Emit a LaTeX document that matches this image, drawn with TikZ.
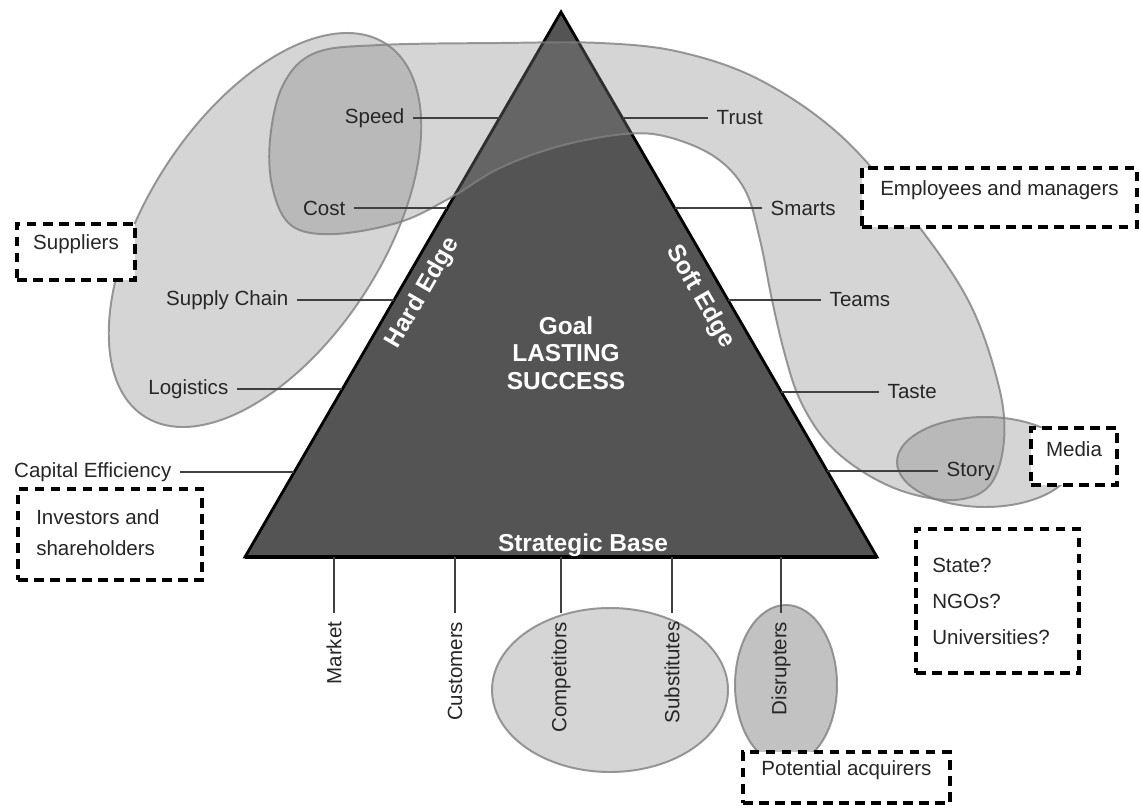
\documentclass[tikz,border=0pt]{standalone}
\usepackage{fontspec}
\setmainfont{Liberation Sans}
\usetikzlibrary{positioning,fit}

\begin{document}
\begin{tikzpicture}[x=0.025cm, y=-0.025cm,
    font=\fontsize{14.6}{17.5}\selectfont,
    lbl/.style = {inner sep=6pt, text=black!85},
    conn/.style = {draw=black!75, line width=1pt},
    grp/.style = {fill=black!47, fill opacity=0.35, draw=black!50, draw opacity=0.8, line width=1.4pt},
    dbox/.style = {draw, line width=2.4pt, dash pattern=on 6.8pt off 4.6pt, fill=white, inner sep=0pt, text=black!85},
    inlbl/.style = {text=white, font=\fontsize{17.4}{19.6}\selectfont\bfseries, align=center}]
            \fill[white] (0,0) rectangle (1141,807);
            % Pyramid
            \coordinate (top) at (561,12);
            \coordinate (bl) at (245,557);
            \coordinate (br) at (877,557);
            \draw[fill=black!67, line width=2pt] (top) -- (br) -- (bl) -- cycle;
            \draw[line width=3pt] (bl) -- (br);
            % Groups
            \draw[grp, shift={(265,230)}, rotate=57] (0,0) ellipse [x radius=222, y radius=118];
            \draw[grp] plot[smooth cycle, tension=0.6] coordinates {
                (283,85) (315,53) (380,45) (500,43) (600,43) (680,52) (760,80)
                (840,135) (910,215) (968,300) (998,383) (1004,440) (990,485)
                (955,500) (905,492) (860,470) (825,440) (800,400) (785,355)
                (772,300) (760,240) (745,190) (715,157) (668,137) (625,134)
                (560,146) (500,168) (450,198) (400,222) (335,234) (292,226)
                (273,190) (270,140)};
            \draw[grp] (985,462) ellipse [x radius=88, y radius=45];
            \draw[grp] (610,690) ellipse [x radius=118, y radius=82];
            \draw[grp, fill opacity=0.5] (786,685) ellipse [x radius=51, y radius=80];
            % Nodes
            \node[lbl, anchor=east] (speed) at (413,118) {Speed};
            \node[lbl, anchor=east] (cost) at (354,208) {Cost};
            \node[lbl, anchor=east] (chain) at (297,300) {Supply Chain};
            \node[lbl, anchor=east] (logi) at (237,389) {Logistics};
            \node[lbl, anchor=east] (capeff) at (180,472) {Capital Efficiency};
            \node[lbl, anchor=west] (trust) at (708,118) {Trust};
            \node[lbl, anchor=west] (smarts) at (762,208) {Smarts};
            \node[lbl, anchor=west] (teams) at (821,300) {Teams};
            \node[lbl, anchor=west] (taste) at (879,392) {Taste};
            \node[lbl, anchor=west] (story) at (938,471) {Story};
            \node[lbl, rotate=90, anchor=east] (market) at (334,613) {Market};
            \node[lbl, rotate=90, anchor=east] (cust) at (455,613) {Customers};
            \node[lbl, rotate=90, anchor=east] (comp) at (561,613) {Competitors};
            \node[lbl, rotate=90, anchor=east] (subst) at (672,613) {Substitutes};
            \node[lbl, rotate=90, anchor=east] (disr) at (781,613) {Disrupters};
            \node[inlbl] (goal) at (566,353) {Goal\\LASTING\\SUCCESS};
            \node[inlbl] (base) at (583,545) {Strategic Base};
            \node[inlbl, rotate=60] (hard) at (423,293) {Hard Edge};
            \node[inlbl, rotate=-60] (soft) at (700,297) {Soft Edge};
            % Stakeholders
            \node[dbox, fit={(17,224) (135,280)}] (sup) {Suppliers};
            \node[dbox, fit={(862,168) (1137,227)}] (emp) {Employees and managers};
            \node[dbox, fit={(1031,428) (1117,485)}] (media) {Media};
            \node[dbox, fit={(743,752) (950,803)}] (acq) {Potential acquirers};
            \node[dbox, fit={(18,489) (202,580)}] (inv) {};
            \node[lbl, anchor=west, inner sep=0pt, align=left, font=\fontsize{14.6}{22}\selectfont] (invtxt) at (36,533) {Investors and\\shareholders};
            \node[dbox, fit={(916,529) (1079,673)}] (other) {};
            \node[lbl, anchor=west, inner sep=0pt, align=left, font=\fontsize{14.6}{25.6}\selectfont] (othertxt) at (932,601) {State?\\NGOs?\\Universities?};
            % Edges
            \coordinate (speedE) at (499.5,118);
            \coordinate (costE) at (447.4,208);
            \coordinate (chainE) at (394,300);
            \coordinate (logiE) at (342.4,389);
            \coordinate (capeffE) at (294.3,472);
            \coordinate (trustE) at (622.5,118);
            \coordinate (smartsE) at (674.6,208);
            \coordinate (teamsE) at (728,300);
            \coordinate (tasteE) at (781.3,392);
            \coordinate (storyE) at (827.1,471);
            \coordinate (marketE) at (334,557);
            \coordinate (custE) at (455,557);
            \coordinate (compE) at (561,557);
            \coordinate (substE) at (672,557);
            \coordinate (disrE) at (781,557);
            \draw[conn] (speed.east) -- (speedE);
            \draw[conn] (cost.east) -- (costE);
            \draw[conn] (chain.east) -- (chainE);
            \draw[conn] (logi.east) -- (logiE);
            \draw[conn] (capeff.east) -- (capeffE);
            \draw[conn] (trust.west) -- (trustE);
            \draw[conn] (smarts.west) -- (smartsE);
            \draw[conn] (teams.west) -- (teamsE);
            \draw[conn] (taste.west) -- (tasteE);
            \draw[conn] (story.west) -- (storyE);
            \draw[conn] (marketE) -- (market.east);
            \draw[conn] (custE) -- (cust.east);
            \draw[conn] (compE) -- (comp.east);
            \draw[conn] (substE) -- (subst.east);
            \draw[conn] (disrE) -- (disr.east);
\end{tikzpicture}
\end{document}
